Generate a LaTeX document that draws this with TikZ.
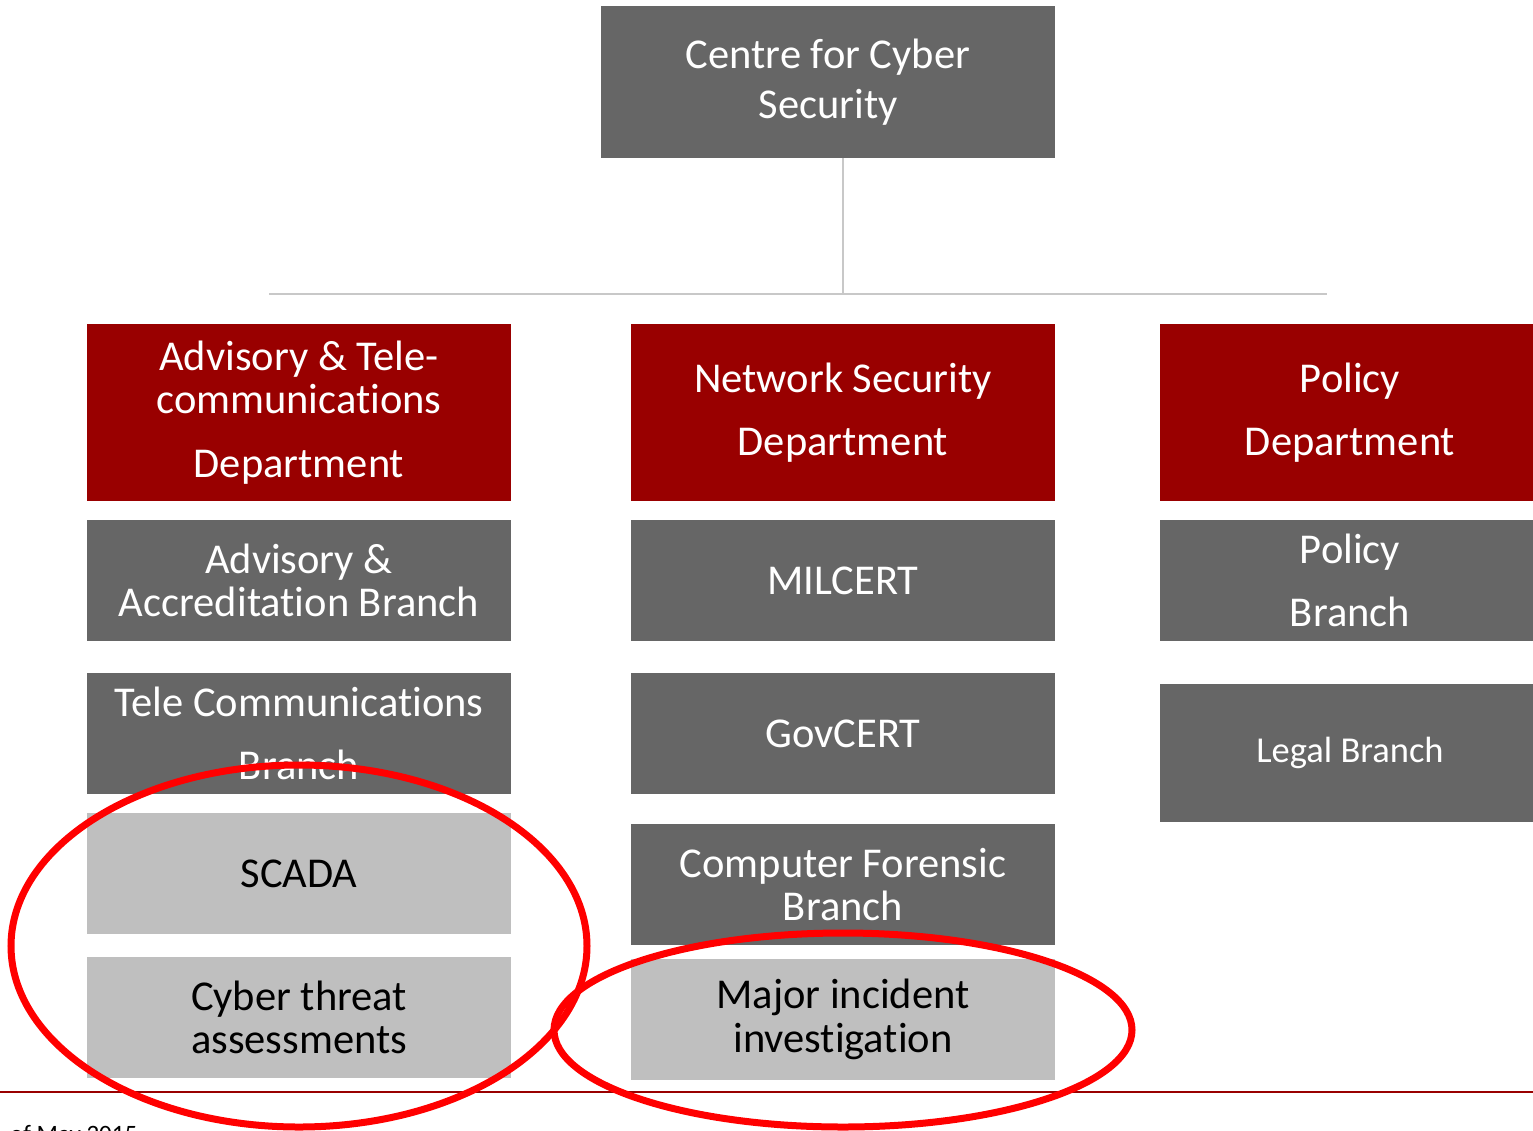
\documentclass[tikz,border=0pt]{standalone}
\usepackage{fontspec}
\setmainfont{Carlito}[Ligatures=NoCommon]
\definecolor{dgrey}{HTML}{666666}
\definecolor{lgrey}{HTML}{BFBFBF}
\definecolor{dred}{HTML}{990000}
\definecolor{conn}{HTML}{C8C8C8}
\definecolor{ring}{HTML}{FF0000}
\tikzset{
  box/.style={rectangle, inner sep=0pt, minimum width=424pt, minimum height=121pt, align=center, text=white, fill=dgrey, font=\fontsize{42.5}{43.5}\selectfont},
  rbox/.style={box, minimum width=380pt},
  dept/.style={box, fill=dred, minimum height=177pt},
  light/.style={box, fill=lgrey, text=black},
  connector/.style={draw=conn, line width=2pt},
  ring/.style={draw=ring, line width=7pt}
}
\begin{document}
\begin{tikzpicture}[x=1pt,y=-1pt]
\useasboundingbox (0,0) rectangle (1533,1130);
% top
\node[box, minimum width=454pt, minimum height=152pt, font=\fontsize{42.5}{50}\selectfont] (top) at (828,82) {Centre for Cyber\\Security};
\coordinate (hm) at (843,294);
\coordinate (hl) at (269,294);
\coordinate (hr) at (1327,294);
\draw[connector] (843,158) -- (hm);
\draw[connector] (hl) -- (hr);
% departments
\node[dept] (d1) at (299,412.5) {Advisory \& Tele-\\communications\\[20pt]Department};
\node[dept] (d2) at (843,412.5) {Network Security\\[20pt]Department};
\node[dept, minimum width=380pt] (d3) at (1350,412.5) {Policy\\[20pt]Department};
% row 2
\node[box] (a1) at (299,580.5) {Advisory \&\\Accreditation Branch};
\node[box] (m1) at (843,580.5) {MILCERT};
\node[rbox] (p1) at (1350,580.5) {Policy\\[20pt]Branch};
% row 3
\node[box] (a2) at (299,733.5) {Tele Communications\\[20pt]Branch};
\node[box] (m2) at (843,733.5) {GovCERT};
\node[rbox, minimum height=138pt, font=\fontsize{36.5}{42}\selectfont] (p2) at (1350,753) {Legal Branch};
% row 4
\node[light] (a3) at (299,873.5) {SCADA};
\node[box] (m3) at (843,884.5) {Computer Forensic\\Branch};
% row 5
\node[light] (a4) at (299,1017.5) {Cyber threat\\assessments};
\node[light] (m4) at (843,1019.5) {Major incident\\investigation};
% footer line
\coordinate (fl) at (0,1092);
\coordinate (fr) at (1533,1092);
\draw[draw=dred, line width=2pt] (fl) -- (fr);
\node[anchor=base west, inner sep=0pt, font=\fontsize{25}{28}\selectfont, text=black] (date) at (10,1142) {of May 2015};
% rings
\draw[ring] (299,946) ellipse [x radius=288, y radius=181];
\draw[ring] (843,1030) ellipse [x radius=289, y radius=97];
\end{tikzpicture}
\end{document}
